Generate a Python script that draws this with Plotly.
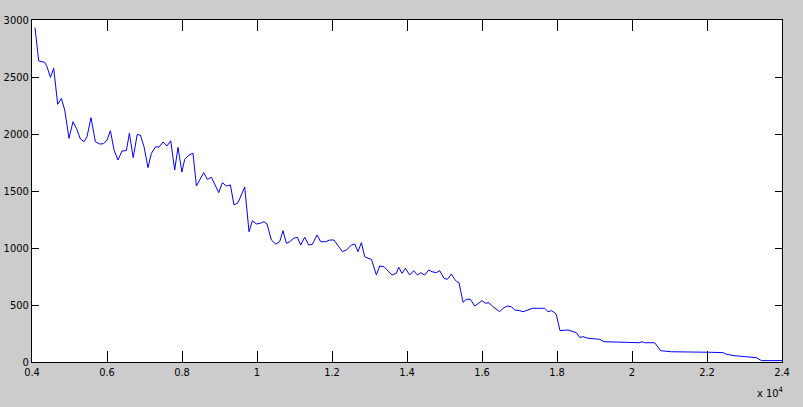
import plotly.graph_objs as go

# valores (eixo x em unidades de 10^4)
x_vals = [0.4080, 0.4179, 0.4339, 0.4400, 0.4491, 0.4579, 0.4685, 0.4784, 0.4872, 0.4987,
          0.5093, 0.5184, 0.5291, 0.5387, 0.5467, 0.5573, 0.5691, 0.5805, 0.5912, 0.6000,
          0.6091, 0.6187, 0.6293, 0.6400, 0.6517, 0.6597, 0.6699, 0.6805, 0.6891, 0.6987,
          0.7093, 0.7184, 0.7299, 0.7387, 0.7493, 0.7600, 0.7699, 0.7805, 0.7893, 0.7997,
          0.8072, 0.8187, 0.8293, 0.8384, 0.8472, 0.8579, 0.8677, 0.8784, 0.8872, 0.8979,
          0.9077, 0.9184, 0.9291, 0.9387, 0.9493, 0.9584, 0.9672, 0.9787, 0.9877, 0.9984,
          1.0091, 1.0187, 1.0267, 1.0384, 1.0499, 1.0605, 1.0693, 1.0784, 1.0872, 1.0979,
          1.1077, 1.1165, 1.1272, 1.1379, 1.1477, 1.1600, 1.1699, 1.1832, 1.1939, 1.2053,
          1.2160, 1.2277, 1.2384, 1.2517, 1.2605, 1.2693, 1.2784, 1.2872, 1.2960, 1.3051,
          1.3184, 1.3272, 1.3387, 1.3493, 1.3600, 1.3717, 1.3779, 1.3867, 1.3957, 1.4072,
          1.4179, 1.4277, 1.4365, 1.4472, 1.4579, 1.4667, 1.4784, 1.4872, 1.4987, 1.5077,
          1.5184, 1.5272, 1.5333, 1.5387, 1.5493, 1.5584, 1.5691, 1.5805, 1.5893, 1.6000,
          1.6091, 1.6187, 1.6293, 1.6384, 1.6472, 1.6560, 1.6667, 1.6784, 1.6872, 1.7005,
          1.7093, 1.7227, 1.7344, 1.7672, 1.7760, 1.7851, 1.7939, 1.7984, 1.8045, 1.8080,
          1.8293, 1.8427, 1.8517, 1.8605, 1.8693, 1.8827, 1.9139, 1.9253, 1.9939, 2.0205,
          2.0267, 2.0339, 2.0605, 2.0693, 2.0765, 2.1051, 2.1939, 2.2117, 2.2427, 2.2517,
          2.2739, 2.2960, 2.3317, 2.3451, 2.4000]
y_vals = [2933, 2640, 2629, 2591, 2497, 2576, 2260, 2313, 2211, 1962,
          2108, 2050, 1956, 1932, 1976, 2143, 1932, 1912, 1915, 1947,
          2029, 1860, 1772, 1851, 1854, 2006, 1792, 1995, 1990, 1889,
          1705, 1831, 1889, 1884, 1930, 1895, 1941, 1684, 1883, 1667,
          1778, 1816, 1831, 1544, 1597, 1661, 1602, 1620, 1561, 1485,
          1573, 1544, 1553, 1377, 1397, 1474, 1535, 1143, 1239, 1211,
          1217, 1231, 1211, 1070, 1035, 1055, 1152, 1041, 1055, 1085,
          1094, 1026, 1094, 1026, 1032, 1114, 1055, 1055, 1070, 1070,
          1026, 968, 982, 1026, 1035, 968, 1047, 924, 910, 901,
          763, 842, 836, 801, 763, 778, 831, 778, 822, 763,
          801, 763, 783, 763, 807, 792, 783, 801, 734, 725,
          772, 725, 704, 696, 524, 550, 550, 491, 515, 538,
          515, 520, 485, 462, 441, 471, 491, 485, 456, 450,
          441, 456, 471, 471, 441, 450, 433, 412, 339, 275,
          281, 266, 257, 216, 222, 208, 199, 178, 169, 169,
          178, 169, 169, 134, 99, 90, 90, 85, 82, 68,
          55, 47, 38, 12, 12]

fonte = dict(family='Liberation Sans Narrow, Arial Narrow, DejaVu Sans Condensed', size=11, color='black')

fig = go.Figure(go.Scatter(x=x_vals, y=y_vals, mode='lines',
                           line=dict(color='#0000ff', width=1)))

fig.update_layout(
    width=803, height=407,
    paper_bgcolor='#cccccc', plot_bgcolor='white',
    margin=dict(l=32, r=21, t=20, b=45),
    showlegend=False,
    font=fonte,
)
fig.update_xaxes(range=[0.4, 2.4], tickmode='linear', tick0=0.4, dtick=0.2,
                 showgrid=False, showline=True, linecolor='black',
                 mirror='allticks', ticks='inside', ticklen=11,
                 tickwidth=1, tickcolor='black', tickfont=fonte, automargin=False)
fig.update_yaxes(range=[0, 3000], tickmode='linear', tick0=0, dtick=500,
                 showgrid=False, showline=True, linecolor='black',
                 mirror='allticks', ticks='inside', ticklen=7,
                 tickwidth=1, tickcolor='black', tickfont=fonte, automargin=False)
fig.add_annotation(text='x 10<sup>4</sup>', xref='paper', yref='paper',
                   x=0.984, y=-0.06, xanchor='center', yanchor='top',
                   showarrow=False, font=fonte)

# tirar a margem padrao da pagina e a barra de ferramentas
fig.write_html('out.html', config={'displayModeBar': False},
               post_script="document.body.style.margin='0';")
